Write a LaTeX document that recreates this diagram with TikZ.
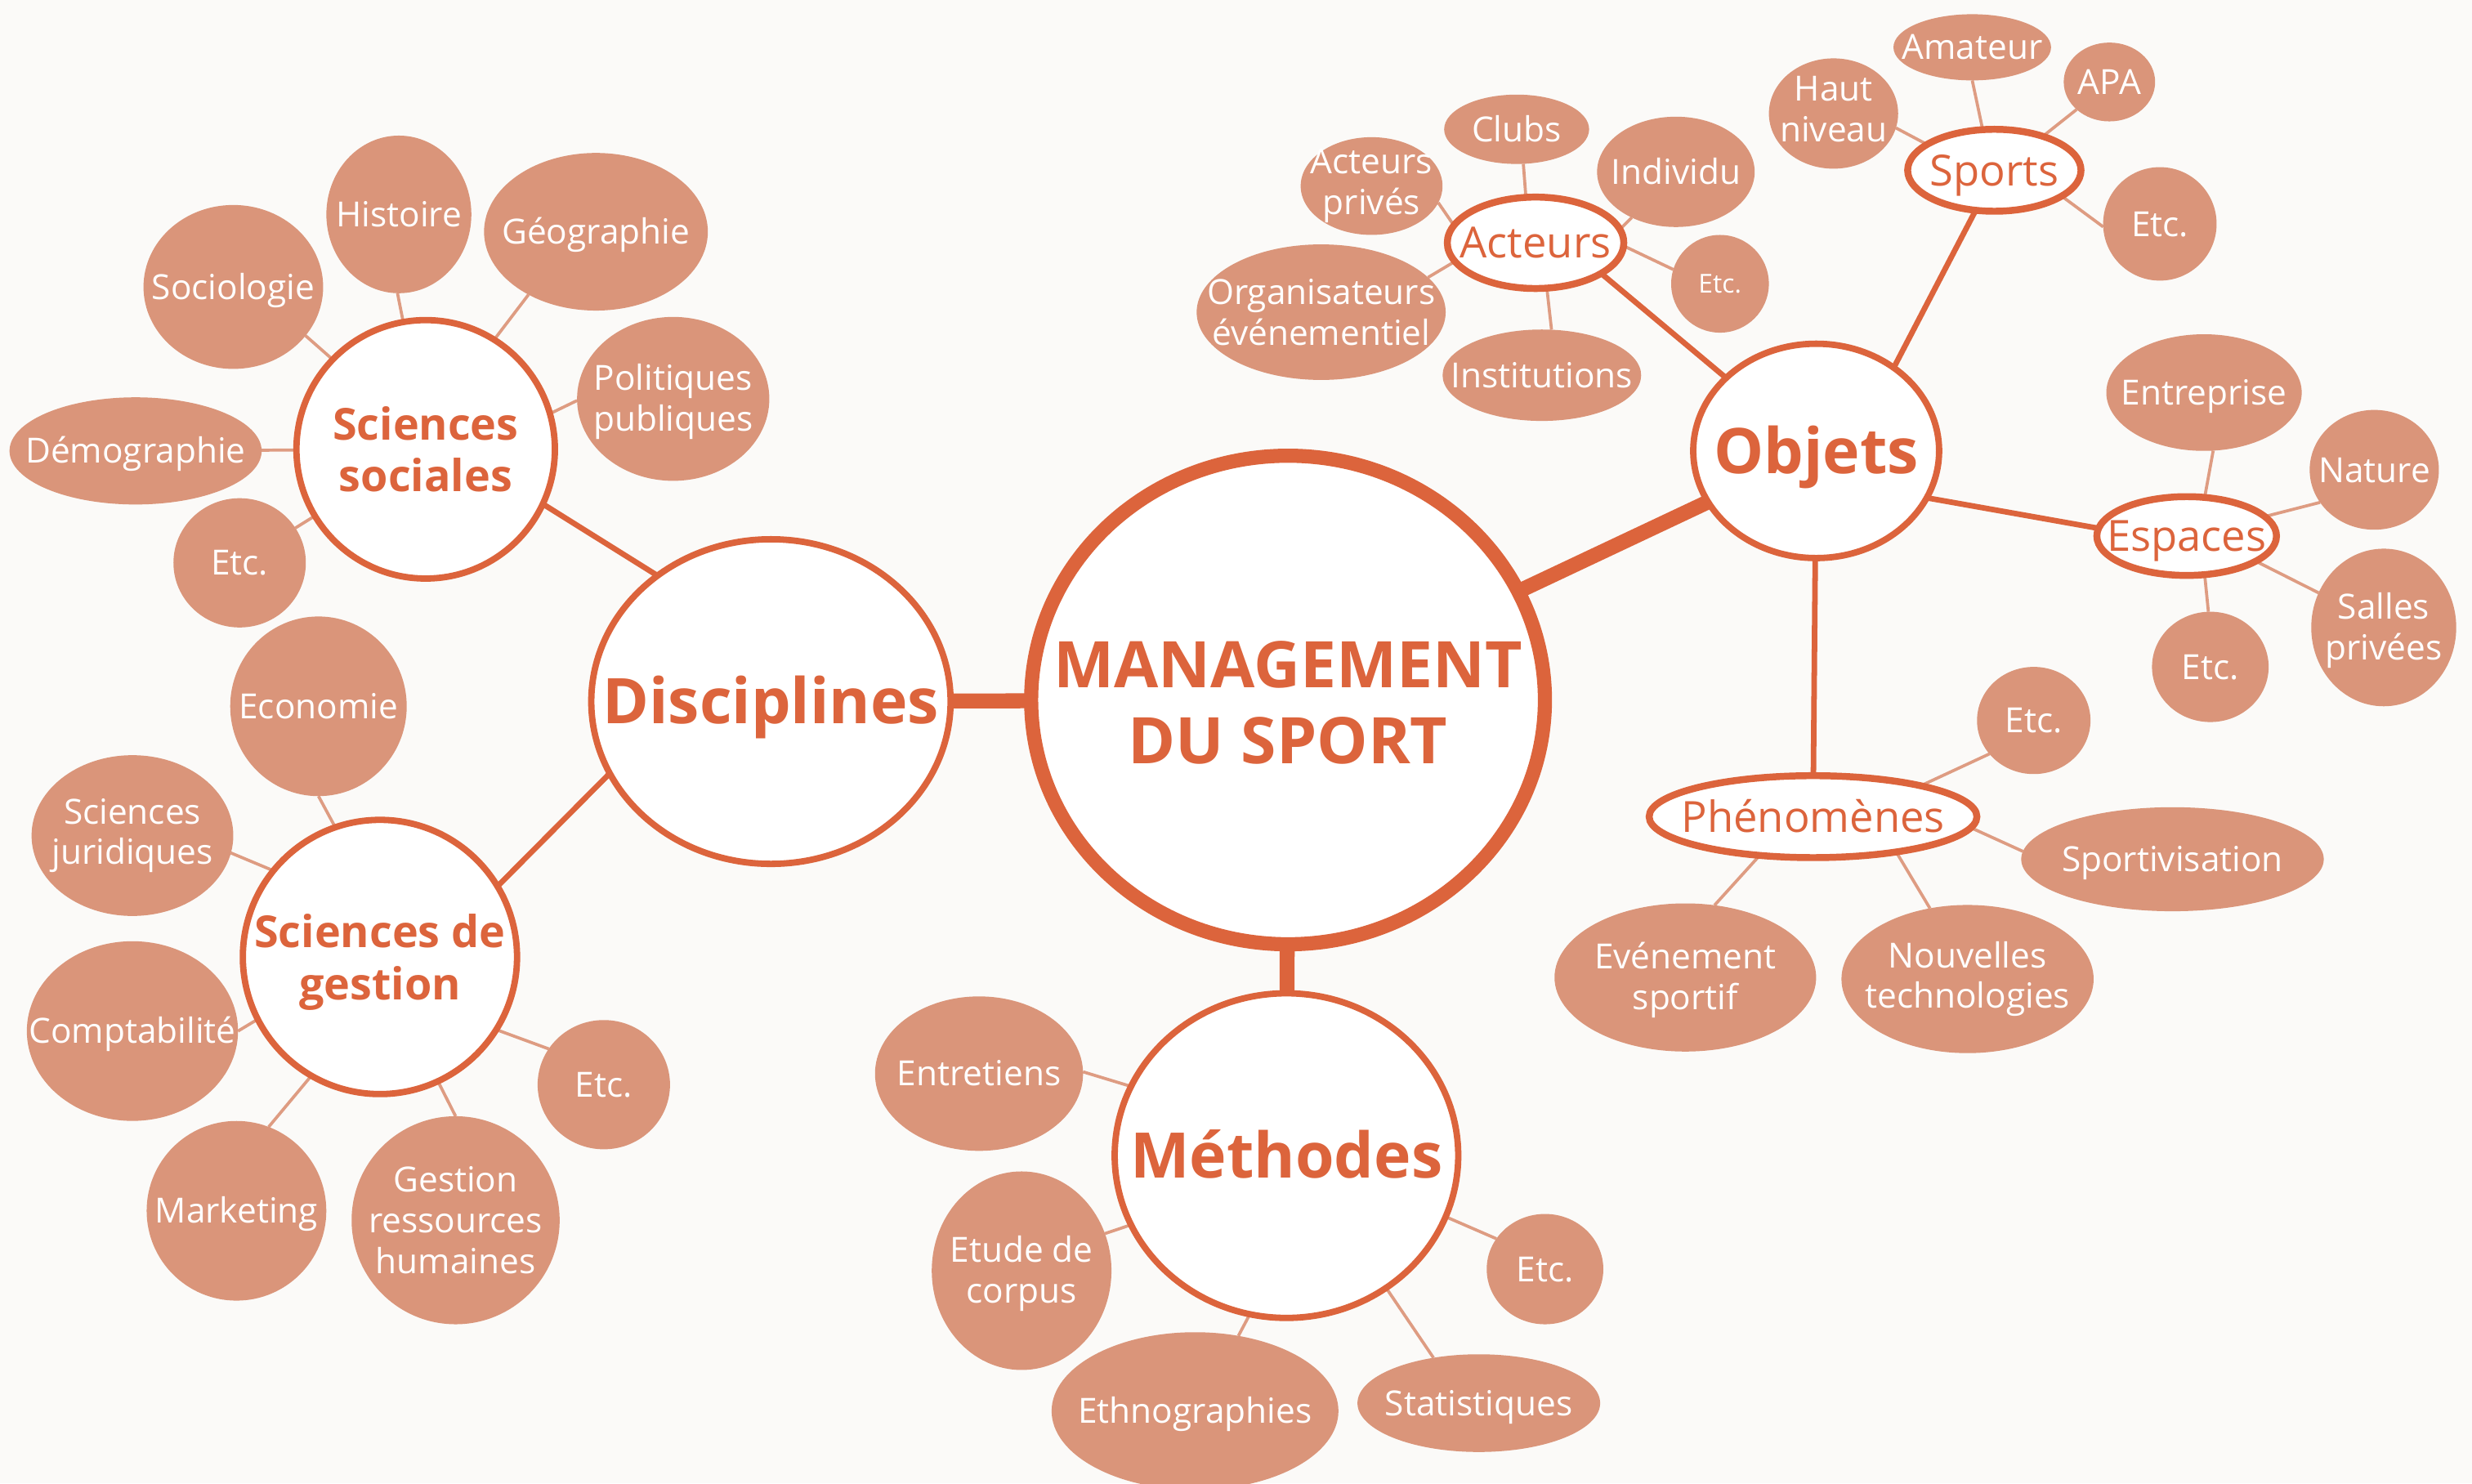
\documentclass[tikz,border=0pt]{standalone}
\usepackage{fontspec}
\setmainfont{Open Sans}
\usetikzlibrary{shapes.geometric}
\definecolor{orc}{HTML}{DC643C}
\definecolor{leafc}{HTML}{DA957A}
\definecolor{linkc}{HTML}{DE9C82}
\definecolor{bgc}{HTML}{FBFAF8}
\pgfdeclarelayer{bg}
\pgfsetlayers{bg,main}
\newcommand\myhstrut[1]{\rule{0pt}{#1}}
\newcommand\mydstrut[1]{\rule[-#1]{0pt}{#1}}
\begin{document}
\begin{tikzpicture}[x=0.02cm,y=-0.02cm,
  sz/.style 2 args={minimum width={#1*0.04cm}, minimum height={#2*0.04cm}},
  bub/.style={ellipse, inner sep=-60pt, outer sep=0pt, align=center},
  leaf/.style={bub, fill=leafc, text=white, font=\fontsize{12.5}{14.7}\selectfont},
  one/.style={text height=8.9pt, text depth=0pt},
  smalltxt/.style={font=\fontsize{9.4}{11}\selectfont, text height=6.7pt, text depth=0pt},
  hub/.style={bub, draw=orc, fill=white, text=orc},
  core/.style={hub, line width=5.1pt, font=\bfseries\fontsize{23.2}{27.2}\selectfont},
  major/.style={hub, line width=2.3pt, font=\bfseries\fontsize{22.7}{27.2}\selectfont, text height=16.2pt, text depth=0pt},
  minor/.style={hub, line width=2.3pt, font=\bfseries\fontsize{15.9}{18.7}\selectfont},
  subhub/.style={hub, line width=2.5pt, font=\fontsize{15.5}{18}\selectfont, text height=11.1pt, text depth=0pt},
  thickbar/.style={draw=orc, line width=5.4pt},
  branch/.style={draw=orc, line width=2pt},
  twig/.style={draw=linkc, line width=1.1pt},
]
\useasboundingbox (0,0) rectangle (1568,941);

% hubs
\node[core, sz={163}{155}] (ms) at (817,444) {\myhstrut{18.8pt}MANAGEMENT\\DU SPORT};
\node[major, sz={114}{103}] (dis) at (489,445) {Disciplines};
\node[major, sz={78}{68}] (obj) at (1152,286) {Objets};
\node[major, sz={109}{103}] (met) at (816,733) {Méthodes};
\node[minor, sz={82}{82}] (ss) at (270,285) {Sciences\\sociales};
\node[minor, sz={87}{87}] (sg) at (241,607) {\myhstrut{15.9pt}Sciences de\\gestion};
\node[subhub, sz={56}{29}] (act) at (974,154) {Acteurs};
\node[subhub, sz={55}{26}] (spo) at (1265,108) {Sports};
\node[subhub, sz={57}{25}] (esp) at (1387,340) {Espaces};
\node[subhub, sz={104}{26}] (phe) at (1150,518) {Phénomènes};

% Sciences sociales
\node[leaf, one, sz={57}{52}] (soc) at (148,182) {Sociologie};
\node[leaf, one, sz={46}{50}] (his) at (253,136) {Histoire};
\node[leaf, one, sz={71}{50}] (geo) at (378,147) {Géographie};
\node[leaf, sz={61}{52}] (pol) at (427,253) {\myhstrut{11.7pt}Politiques\\publiques};
\node[leaf, one, sz={80}{34}] (dem) at (86,286) {Démographie};
\node[leaf, one, sz={42}{41}] (ssetc) at (152,357) {Etc.};
% Sciences de gestion
\node[leaf, one, sz={56}{57}] (eco) at (202,448) {Economie};
\node[leaf, sz={64}{51}] (jur) at (84,530) {Sciences\\juridiques};
\node[leaf, one, sz={67}{57}] (cpt) at (84,654) {Comptabilité};
\node[leaf, one, sz={57}{57}] (mkt) at (150,768) {Marketing};
\node[leaf, sz={66}{66}] (grh) at (289,774) {Gestion\\ressources\\humaines};
\node[leaf, one, sz={42}{41}] (sgetc) at (383,688) {Etc.};
% Methodes
\node[leaf, one, sz={66}{49}] (ent) at (621,681) {Entretiens};
\node[leaf, sz={57}{63}] (cor) at (648,806) {\myhstrut{11.7pt}Etude de\\corpus};
\node[leaf, one, sz={91}{50}] (eth) at (758,895) {Ethnographies};
\node[leaf, one, sz={77}{31}] (sta) at (938,890) {Statistiques};
\node[leaf, one, sz={37}{35}] (meetc) at (980,805) {Etc.};
% Acteurs
\node[leaf, one, sz={46}{22}] (clu) at (962,82) {Clubs};
\node[leaf, sz={45}{31}] (apr) at (870,118) {Acteurs\\privés};
\node[leaf, one, sz={50}{35}] (ind) at (1063,109) {Individu};
\node[leaf, smalltxt, sz={31}{31}] (acetc) at (1091,180) {Etc.};
\node[leaf, sz={79}{43}] (org) at (838,198) {Organisateurs\\événementiel};
\node[leaf, one, sz={63}{29}] (ins) at (978,238) {Institutions};
% Sports
\node[leaf, sz={41}{35}] (hn) at (1163,72) {Haut\\niveau\mydstrut{3.2pt}};
\node[leaf, one, sz={50}{21}] (ama) at (1251,30) {Amateur};
\node[leaf, one, sz={29}{25}] (apa) at (1338,52) {APA};
\node[leaf, one, sz={36}{36}] (spetc) at (1370,142) {Etc.};
% Espaces
\node[leaf, one, sz={62}{37}] (etp) at (1398,249) {Entreprise};
\node[leaf, one, sz={41}{38}] (nat) at (1506,298) {Nature};
\node[leaf, sz={46}{50}] (sal) at (1512,398) {\myhstrut{11.7pt}Salles\\privées};
\node[leaf, one, sz={37}{35}] (esetc) at (1402,423) {Etc.};
% Phenomenes
\node[leaf, one, sz={36}{34}] (phetc) at (1290,457) {Etc.};
\node[leaf, one, sz={96}{33}] (spv) at (1378,545) {Sportivisation};
\node[leaf, sz={83}{47}] (evt) at (1069,620) {\myhstrut{11.7pt}Evénement\\sportif};
\node[leaf, sz={80}{47}] (nt) at (1248,621) {Nouvelles\\technologies};

\begin{pgfonlayer}{bg}
\fill[bgc] (0,0) rectangle (1568,941);
\draw[thickbar] (ms) -- (dis);
\draw[thickbar] (ms) -- (met);
\draw[thickbar] (ms) -- (obj);
\draw[branch] (ss.335) -- (dis.132);
\draw[branch] (sg.31) -- (dis.204);
\draw[branch] (act.335) -- (obj.141);
\draw[branch] (spo.245) -- (obj.47);
\draw[branch] (obj.337) -- (esp.175);
\draw[branch] (obj) -- (phe);
% Sciences sociales
\draw[twig] (ss.136) -- (soc.326);
\draw[twig] (ss.100) -- (his.269);
\draw[twig] (ss.58) -- (geo.223);
\draw[twig] (ss.16) -- (pol.181);
\draw[twig] (ss) -- (dem);
\draw[twig] (ss.211) -- (ssetc.32);
% Sciences de gestion
\draw[twig] (sg.109) -- (eco.270);
\draw[twig] (sg.141) -- (jur.350);
\draw[twig] (sg.207) -- (cpt.0);
\draw[twig] (sg.240) -- (mkt.69);
\draw[twig] (sg.295) -- (grh.90);
\draw[twig] (sg.328) -- (sgetc.147);
% Methodes
\draw[twig] (met.156) -- (ent.1);
\draw[twig] (met.204) -- (cor.24);
\draw[twig] (met.257) -- (eth.60);
\draw[twig] (met.307) -- (sta.135);
\draw[twig] (met.339) -- (meetc.148);
% Acteurs
\draw[twig] (act.102) -- (clu.281);
\draw[twig] (act.168) -- (apr.346);
\draw[twig] (act.9) -- (ind.226);
\draw[twig] (act.358) -- (acetc.163);
\draw[twig] (act.193) -- (org.18);
\draw[twig] (act.284) -- (ins.78);
% Sports
\draw[twig] (spo.159) -- (hn.347);
\draw[twig] (spo.106) -- (ama.270);
\draw[twig] (spo.35) -- (apa.220);
\draw[twig] (spo.339) -- (spetc.183);
% Espaces
\draw[twig] (esp.65) -- (etp.279);
\draw[twig] (esp.14) -- (nat.211);
\draw[twig] (esp.340) -- (sal.152);
\draw[twig] (esp.295) -- (esetc.92);
% Phenomenes
\draw[twig] (phe.16) -- (phetc.217);
\draw[twig] (phe.356) -- (spv.177);
\draw[twig] (phe.216) -- (evt.68);
\draw[twig] (phe.337) -- (nt.118);
\end{pgfonlayer}
\end{tikzpicture}
\end{document}
